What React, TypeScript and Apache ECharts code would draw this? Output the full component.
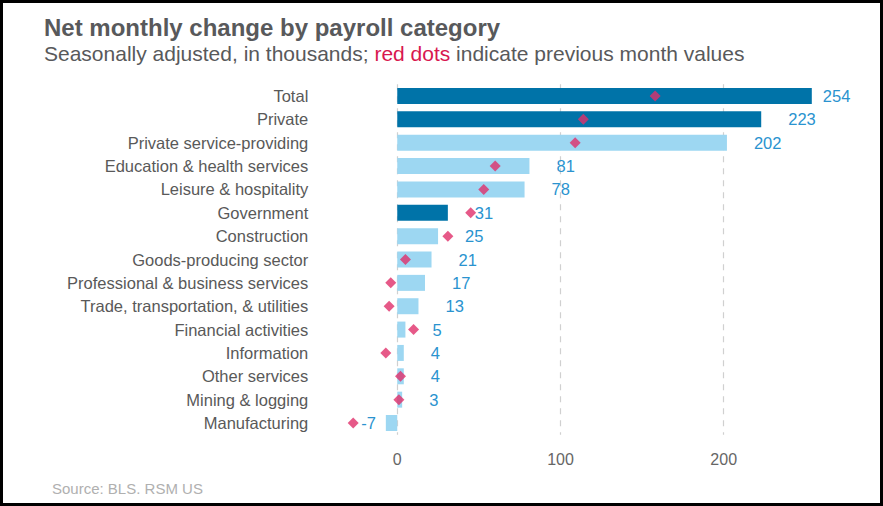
import React, { useEffect, useRef } from "react";
import * as echarts from "echarts";

const categories = [
  "Total",
  "Private",
  "Private service-providing",
  "Education & health services",
  "Leisure & hospitality",
  "Government",
  "Construction",
  "Goods-producing sector",
  "Professional & business services",
  "Trade, transportation, & utilities",
  "Financial activities",
  "Information",
  "Other services",
  "Mining & logging",
  "Manufacturing",
];
const currentValues = [254, 223, 202, 81, 78, 31, 25, 21, 17, 13, 5, 4, 4, 3, -7];
const previousValues = [158, 114, 109, 60, 53, 45, 31, 5, -4, -5, 10, -7, 2, 1, -27];
const darkCategories = ["Total", "Private", "Government"];
const xTickLabels = [0, 100, 200];

const DARK = "#0073a8";
const LIGHT = "#9dd7f2";
const RED = "#e0306a";
const LABEL_BLUE = "#2a93cf";

export default function App() {
  const ref = useRef<HTMLDivElement>(null);
  useEffect(() => {
    if (!ref.current) return;
    const chart = echarts.init(ref.current, null, { renderer: "svg" });
    const barData = currentValues.map((v, i) => {
      const cat = categories[i];
      const label: any = {};
      if (v < 0) {
        label.position = "left";
        label.distance = 10;
      } else if (cat === "Total") {
        label.distance = 11;
      }
      return {
        value: v,
        itemStyle: { color: darkCategories.includes(cat) ? DARK : LIGHT },
        label,
      };
    });
    chart.setOption({
      animation: false,
      title: {
        left: 39,
        top: 10,
        text: "Net monthly change by payroll category",
        textStyle: {
          fontFamily: "Liberation Sans",
          fontSize: 24,
          fontWeight: "bold",
          color: "#58595b",
        },
        itemGap: 4,
        subtext:
          "{a|Seasonally adjusted, in thousands; }{r|red dots}{a| indicate previous month values}",
        subtextStyle: {
          fontFamily: "Liberation Sans",
          rich: {
            a: { fontFamily: "Liberation Sans", fontSize: 21, color: "#58595b" },
            r: { fontFamily: "Liberation Sans", fontSize: 21, color: "#d8174f" },
          },
        },
      },
      graphic: [
        {
          type: "text",
          left: 52,
          top: 481,
          style: {
            text: "Source: BLS. RSM US",
            fontFamily: "Liberation Sans",
            fontSize: 15,
            fill: "#b0b0b0",
          },
        },
      ],
      grid: {
        left: 348.3,
        right: 61.4,
        top: 84.3,
        bottom: 71.3,
        containLabel: false,
      },
      xAxis: {
        type: "value",
        min: -30,
        max: 260,
        interval: 10,
        axisLine: { show: false },
        axisTick: { show: false },
        splitLine: { show: false },
        axisLabel: {
          margin: 17,
          fontFamily: "Liberation Sans",
          fontSize: 16,
          color: "#666666",
          formatter: (v: number) => {
            const r = Math.round(v);
            return Math.abs(v - r) < 1e-6 && xTickLabels.includes(r) ? String(r) : "";
          },
        },
      },
      yAxis: {
        type: "category",
        data: categories,
        inverse: true,
        axisLine: { show: false },
        axisTick: { show: false },
        axisLabel: {
          margin: 40,
          fontFamily: "Liberation Sans",
          fontSize: 16.5,
          color: "#595959",
        },
      },
      series: [
        {
          type: "bar",
          data: barData,
          barWidth: 16,
          z: 2,
          label: {
            show: true,
            position: "right",
            distance: 27,
            fontFamily: "Liberation Sans",
            fontSize: 16.5,
            color: LABEL_BLUE,
          },
          markLine: {
            silent: true,
            symbol: "none",
            z: 1,
            label: { show: false },
            lineStyle: { type: [6, 6], color: "#d0d0d0", width: 1.2 },
            data: xTickLabels.map((t) => ({ xAxis: t })),
          },
        },
        {
          type: "scatter",
          data: previousValues.map((v, i) => [v, categories[i]]),
          symbol: "diamond",
          symbolSize: [11, 11],
          itemStyle: { color: RED },
          z: 3,
        },
      ],
    });
    return () => chart.dispose();
  }, []);
  return (
    <div style={{ position: "fixed", left: 0, top: 0, width: 883, height: 506, background: "#fff" }}>
      <div ref={ref} style={{ position: "absolute", left: 0, top: 0, width: 883, height: 506 }} />
      <div
        style={{
          position: "absolute",
          left: 0,
          top: 0,
          width: 883,
          height: 506,
          boxSizing: "border-box",
          border: "3px solid #000",
          pointerEvents: "none",
        }}
      />
    </div>
  );
}
